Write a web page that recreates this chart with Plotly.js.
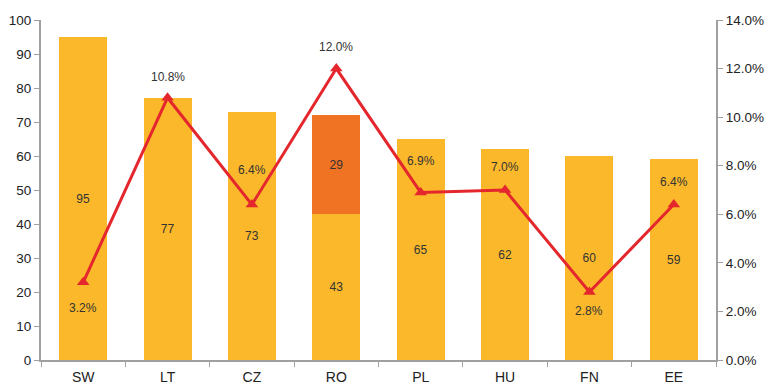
<!DOCTYPE html>
<html><head><meta charset="utf-8">
<script src="https://cdn.plot.ly/plotly-3.0.1.min.js"></script>
<style>html,body{margin:0;padding:0;background:#fff}#c{width:772px;height:392px}</style>
</head><body><div id="c"></div>
<script>
const categories = ['SW','LT','CZ','RO','PL','HU','FN','EE'];
const baseValues = [95,77,73,43,65,62,60,59];
const extraValues = [0,0,0,29,0,0,0,0];
const rateValues = [3.2,10.8,6.4,12.0,6.9,7.0,2.8,6.4];
const leftTicks = [0,10,20,30,40,50,60,70,80,90,100];
const rightTicks = [0,2,4,6,8,10,12,14];

// label placement (pixels, styling only)
const labelShift = [-26,21,35,22,31,23,-19,23];

const font = {family:'Liberation Sans, Arial, sans-serif', size:13.5, color:'#222'};
const axisCol = '#a0a0a0';

const traces = [
  {type:'bar', x:categories, y:baseValues, marker:{color:'#FBB82B'},
   text:baseValues.map(v=>v?String(v):''), texttemplate:'%{text}', textposition:'inside',
   insidetextanchor:'middle', textangle:0, textfont:{family:font.family,size:12,color:'#333'},
   hoverinfo:'skip', width:0.57},
  {type:'bar', x:categories, y:extraValues, marker:{color:'#F07223'},
   text:extraValues.map(v=>v?String(v):''), texttemplate:'%{text}', textposition:'inside',
   insidetextanchor:'middle', textangle:0, textfont:{family:font.family,size:12,color:'#333'},
   hoverinfo:'skip', width:0.57},
  {type:'scatter', mode:'lines+markers', x:categories, y:rateValues, yaxis:'y2',
   line:{color:'#E4262D', width:3}, marker:{symbol:'triangle-up', size:11, color:'#E4262D'},
   hoverinfo:'skip'}
];

const annotations = categories.map((c,i)=>({
  x:c, y:rateValues[i], xref:'x', yref:'y2', text:rateValues[i].toFixed(1)+'%',
  showarrow:false, yshift:labelShift[i], font:{family:font.family,size:12,color:'#333'}
}));

const layout = {
  width:772, height:392, margin:{l:41,r:56,t:20,b:32},
  paper_bgcolor:'#fff', plot_bgcolor:'#fff', showlegend:false, barmode:'stack',
  font:font, annotations:annotations,
  xaxis:{type:'category', tickson:'boundaries', ticks:'outside', ticklen:5, tickcolor:axisCol,
    showline:true, linecolor:axisCol, linewidth:2, showgrid:false, zeroline:false,
    tickfont:{family:font.family,size:14,color:'#222'}, ticklabelstandoff:3, range:[-0.5,7.5]},
  yaxis:{range:[0,100], tickvals:leftTicks, ticks:'outside', ticklen:5, tickcolor:axisCol,
    showline:true, linecolor:axisCol, linewidth:2, showgrid:false, zeroline:false, tickfont:font},
  yaxis2:{overlaying:'y', side:'right', range:[0,14], tickvals:rightTicks,
    ticktext:rightTicks.map(v=>v.toFixed(1)+'%'), ticks:'outside', ticklen:5, tickcolor:axisCol,
    showline:true, linecolor:axisCol, linewidth:2, showgrid:false, zeroline:false, tickfont:font}
};

Plotly.newPlot('c', traces, layout, {staticPlot:true, displayModeBar:false});
</script>
</body></html>
